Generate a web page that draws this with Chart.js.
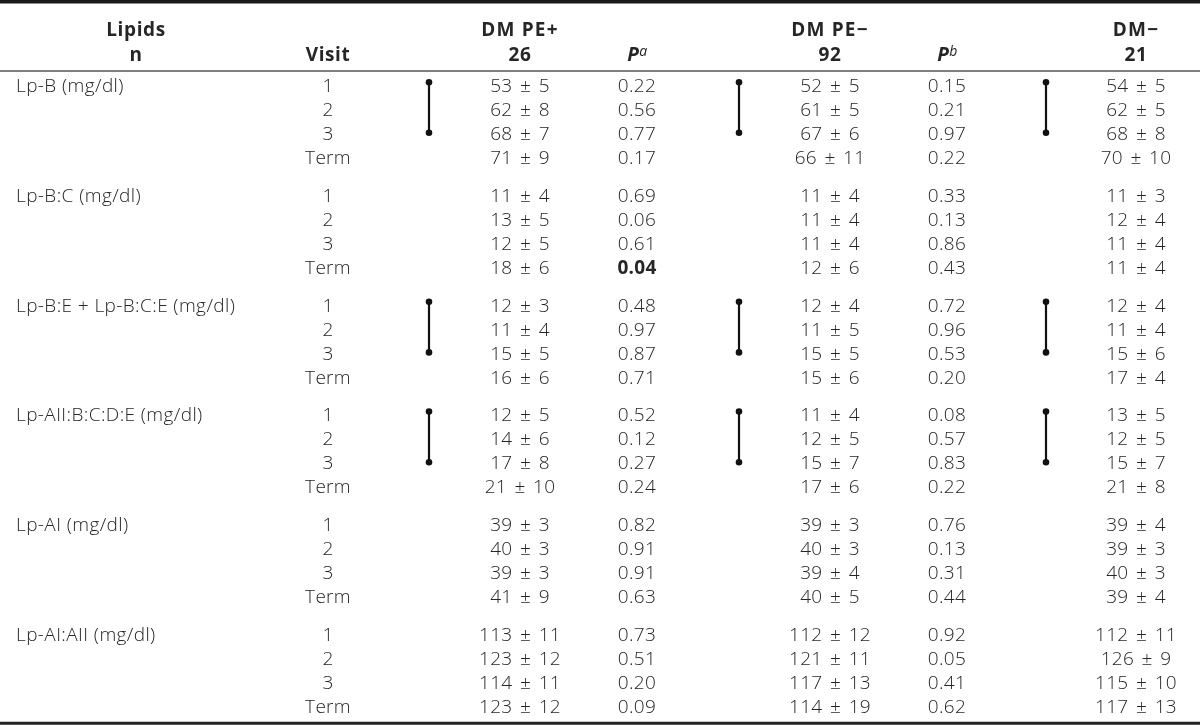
<!DOCTYPE html>
<html>
<head>
<meta charset="utf-8">
<script src="https://cdn.jsdelivr.net/npm/chart.js@4"></script>
<style>
  html, body { margin: 0; padding: 0; background: #fff; }
  #wrap { width: 1200px; height: 725px; }
</style>
</head>
<body>
<div id="wrap"><canvas id="myChart" width="1200" height="725"></canvas></div>
<script>
// table content
const lipids = ['Lp-B (mg/dl)', 'Lp-B:C (mg/dl)', 'Lp-B:E + Lp-B:C:E (mg/dl)', 'Lp-AII:B:C:D:E (mg/dl)', 'Lp-AI (mg/dl)', 'Lp-AI:AII (mg/dl)'];
const visits = ['1', '2', '3', 'Term'];
const groupNames = ['DM PE+', 'DM PE\u2212', 'DM\u2212'];
const groupN = [26, 92, 21];

const pePosMean = [[53, 62, 68, 71], [11, 13, 12, 18], [12, 11, 15, 16], [12, 14, 17, 21], [39, 40, 39, 41], [113, 123, 114, 123]];
const pePosSd   = [[5, 8, 7, 9], [4, 5, 5, 6], [3, 4, 5, 6], [5, 6, 8, 10], [3, 3, 3, 9], [11, 12, 11, 12]];
const pA        = [[0.22, 0.56, 0.77, 0.17], [0.69, 0.06, 0.61, 0.04], [0.48, 0.97, 0.87, 0.71], [0.52, 0.12, 0.27, 0.24], [0.82, 0.91, 0.91, 0.63], [0.73, 0.51, 0.20, 0.09]];
const peNegMean = [[52, 61, 67, 66], [11, 11, 11, 12], [12, 11, 15, 15], [11, 12, 15, 17], [39, 40, 39, 40], [112, 121, 117, 114]];
const peNegSd   = [[5, 5, 6, 11], [4, 4, 4, 6], [4, 5, 5, 6], [4, 5, 7, 6], [3, 3, 4, 5], [12, 11, 13, 19]];
const pB        = [[0.15, 0.21, 0.97, 0.22], [0.33, 0.13, 0.86, 0.43], [0.72, 0.96, 0.53, 0.20], [0.08, 0.57, 0.83, 0.22], [0.76, 0.13, 0.31, 0.44], [0.92, 0.05, 0.41, 0.62]];
const dmNegMean = [[54, 62, 68, 70], [11, 12, 11, 11], [12, 11, 15, 17], [13, 12, 15, 21], [39, 39, 40, 39], [112, 126, 115, 117]];
const dmNegSd   = [[5, 5, 8, 10], [3, 4, 4, 4], [4, 4, 6, 4], [5, 5, 7, 8], [4, 3, 3, 4], [11, 9, 10, 13]];
const pABold = [[1, 3]];          // [lipid, visit] shown in bold
const bracketLipids = [0, 2, 3];  // visit 1 -> 3 brackets
const bracketFrom = 0, bracketTo = 2;

// layout (x in pixels across, y in row units)
const GROUP_STEP = 4.575;
const colLabel = 16, colLipidHead = 136, colVisit = 328;
const colMeans = [520, 830, 1136];
const colP = [637, 947];
const colBracket = [429, 739, 1046];
const rowHead1 = -2.35, rowHead2 = -1.27;
const ruleTop = -3.56, ruleHead = -0.645, ruleBottom = 26.53;

const FONT = '"Open Sans", "Noto Sans", sans-serif';
const INK = '#262626';
const SIZE = 19;

const rowY = (g, r) => g * GROUP_STEP + r;

// bracket datasets
let datasets = [];
colBracket.forEach(cx => {
    bracketLipids.forEach(g => {
        datasets.push({
            data: [{x: cx, y: rowY(g, bracketFrom) - 0.18}, {x: cx, y: rowY(g, bracketTo) - 0.07}],
            showLine: true,
            borderColor: '#111',
            backgroundColor: '#111',
            borderWidth: 2.2,
            pointRadius: 3.3,
            pointBorderWidth: 0
        });
    });
});
// horizontal rules
[[ruleTop, 5, '#1a1a1a'], [ruleHead, 1.5, '#555'], [ruleBottom, 3, '#222']].forEach(([y, w, c]) => {
    datasets.push({
        data: [{x: 0, y: y}, {x: 1200, y: y}],
        showLine: true,
        borderColor: c,
        borderWidth: w,
        pointRadius: 0
    });
});

const tableText = {
    id: 'tableText',
    afterDatasetsDraw(chart) {
        const ctx = chart.ctx;
        const xs = chart.scales.x, ys = chart.scales.y;
        const px = v => xs.getPixelForValue(v);
        const py = v => ys.getPixelForValue(v);
        ctx.save();
        ctx.fillStyle = INK;
        ctx.textBaseline = 'middle';

        const put = (txt, x, y, align, font, spacing) => {
            ctx.font = font;
            ctx.letterSpacing = (spacing || 0) + 'px';
            ctx.textAlign = align;
            ctx.fillText(txt, px(x), py(y));
        };
        const reg = '300 ' + SIZE + 'px ' + FONT;
        const bold = 'bold ' + SIZE + 'px ' + FONT;

        // mean ± sd with wide gaps, centred
        const meanSd = (m, s, x, y) => {
            ctx.font = reg;
            ctx.letterSpacing = '0.3px';
            ctx.textAlign = 'left';
            const gap = 7.5;
            const parts = [String(m), '\u00b1', String(s)];
            const ws = parts.map(p => ctx.measureText(p).width);
            const total = ws.reduce((a, b) => a + b, 0) + gap * 2;
            let cx = px(x) - total / 2;
            parts.forEach((p, i) => {
                ctx.fillText(p, cx, py(y));
                cx += ws[i] + gap;
            });
        };

        // header
        put('Lipids', colLipidHead, rowHead1, 'center', bold, 0.6);
        put('n', colLipidHead, rowHead2, 'center', bold, 0.6);
        put('Visit', colVisit, rowHead2, 'center', bold, 0.6);
        groupNames.forEach((name, i) => {
            put(name, colMeans[i], rowHead1, 'center', bold, 1.2);
            put(String(groupN[i]), colMeans[i], rowHead2, 'center', bold, 0.6);
        });
        ['a', 'b'].forEach((sup, i) => {
            ctx.letterSpacing = '0px';
            ctx.font = 'italic bold ' + SIZE + 'px ' + FONT;
            const wP = ctx.measureText('P').width;
            ctx.font = 'italic 14px ' + FONT;
            const wS = ctx.measureText(sup).width;
            const x0 = px(colP[i]) - (wP + wS) / 2;
            ctx.textAlign = 'left';
            ctx.font = 'italic bold ' + SIZE + 'px ' + FONT;
            ctx.fillText('P', x0, py(rowHead2));
            ctx.font = 'italic 14px ' + FONT;
            ctx.fillText(sup, x0 + wP + 0.5, py(rowHead2) - 4);
        });

        // body
        const means = [[pePosMean, pePosSd], [peNegMean, peNegSd], [dmNegMean, dmNegSd]];
        const ps = [pA, pB];
        lipids.forEach((lip, g) => {
            put(lip, colLabel, rowY(g, 0), 'left', reg, 0.4);
            visits.forEach((v, r) => {
                const y = rowY(g, r);
                put(v, colVisit, y, 'center', reg, 0.3);
                means.forEach(([m, s], i) => meanSd(m[g][r], s[g][r], colMeans[i], y));
                ps.forEach((p, i) => {
                    const isBold = i === 0 && pABold.some(([bg, br]) => bg === g && br === r);
                    put(p[g][r].toFixed(2), colP[i], y, 'center', isBold ? bold : reg, 0.3);
                });
            });
        });
        ctx.restore();
    }
};

const config = {
    type: 'scatter',
    data: { datasets: datasets },
    options: {
        responsive: false,
        animation: false,
        layout: { padding: 0, autoPadding: false },
        plugins: { legend: { display: false }, tooltip: { enabled: false } },
        scales: {
            x: { type: 'linear', min: 0, max: 1200, display: false },
            y: { type: 'linear', min: -3.604, max: 26.604, reverse: true, display: false }
        }
    },
    plugins: [tableText]
};

Promise.all([
    document.fonts.load('300 19px "Open Sans"'),
    document.fonts.load('bold 19px "Open Sans"'),
    document.fonts.load('italic bold 19px "Open Sans"')
]).catch(() => {}).then(() => {
    new Chart(document.getElementById('myChart'), config);
});
</script>
</body>
</html>
